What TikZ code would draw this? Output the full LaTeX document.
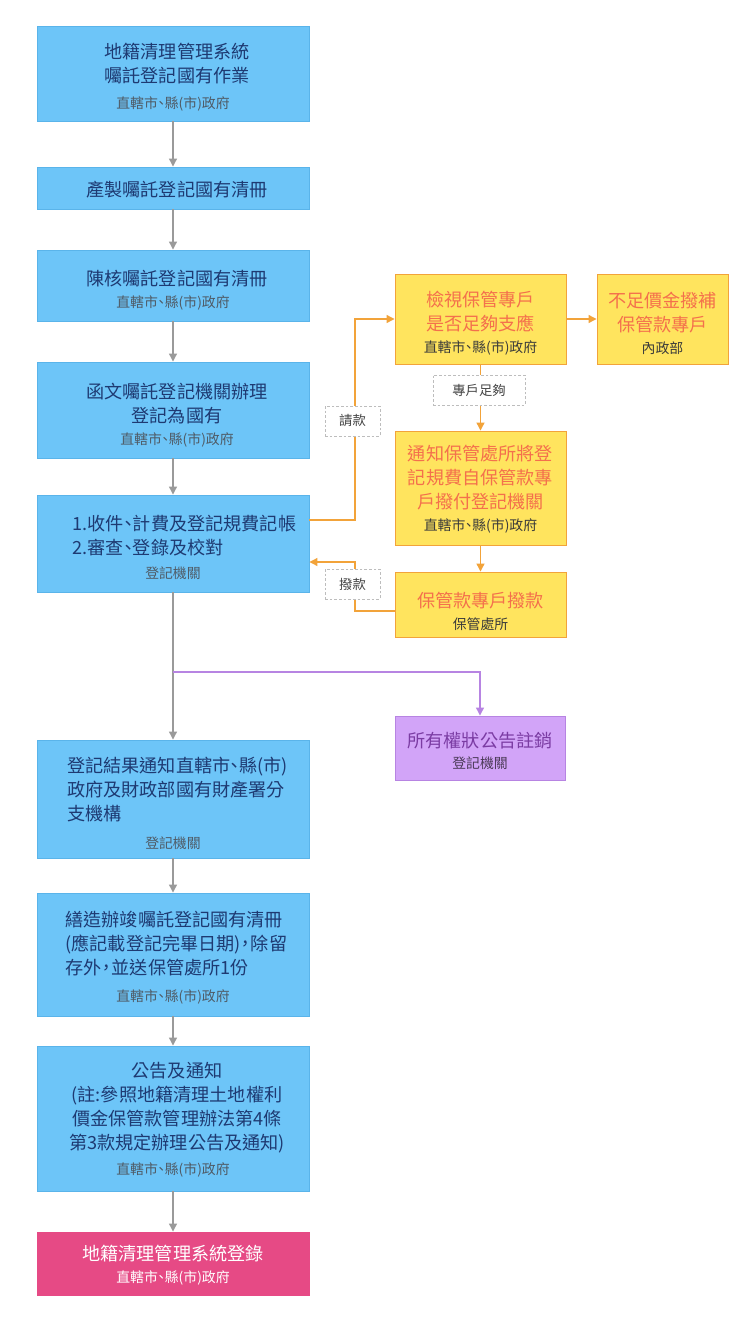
\documentclass[tikz,border=0pt]{standalone}
\usepackage{fontspec}
\setmainfont{Noto Sans CJK TC}
\usetikzlibrary{arrows.meta}
\definecolor{bluefill}{HTML}{6DC5F8}
\definecolor{blueline}{HTML}{5AB4EA}
\definecolor{bluetext}{HTML}{1E3A72}
\definecolor{subgray}{HTML}{4F5B66}
\definecolor{yelfill}{HTML}{FFE45E}
\definecolor{yelline}{HTML}{F2A33A}
\definecolor{yeltext}{HTML}{F4704C}
\definecolor{yelsub}{HTML}{3A3A3A}
\definecolor{purfill}{HTML}{D2A4F8}
\definecolor{purline}{HTML}{B784E2}
\definecolor{purtext}{HTML}{7B3CA3}
\definecolor{pursub}{HTML}{4B3A57}
\definecolor{pinkfill}{HTML}{E64A85}
\definecolor{arrgray}{HTML}{9A9A9A}
\definecolor{dashgray}{HTML}{BDBDBD}
\definecolor{lbltext}{HTML}{444444}
\newcommand{\subline}[2]{{\fontsize{10.4}{13}\selectfont\color{#1}#2}}
\newcommand{\dn}{\makebox[0.5em]{、}}
\newcommand{\cm}{\makebox[0.55em]{，}}
\newcommand{\tp}{\rule{0pt}{17.5pt}}
\newcommand{\tpt}{\rule{0pt}{18.6pt}}
\newcommand{\ml}[1]{\hspace*{6pt}#1}
\tikzset{
  base/.style={rectangle, align=center, inner sep=0pt, line width=0.7pt,
    font=\fontsize{13.6}{18}\selectfont},
  bluebox/.style={base, fill=bluefill, draw=blueline, text=bluetext, minimum width=204pt},
  yelbox/.style={base, fill=yelfill, draw=yelline, text=yeltext, minimum width=128.25pt},
  purbox/.style={base, fill=purfill, draw=purline, text=purtext, minimum width=127.5pt},
  pinkbox/.style={base, fill=pinkfill, draw=pinkfill, text=white, minimum width=204pt},
  lbl/.style={rectangle, draw=dashgray, dash pattern=on 2pt off 1.5pt, fill=white,
    inner sep=0pt, minimum height=22.5pt, text=lbltext,
    font=\fontsize{10}{13}\selectfont},
  garrow/.style={draw=arrgray, line width=0.9pt, -{Triangle[width=6pt,length=6pt]}},
  oarrow/.style={draw=yelline, line width=0.9pt, -{Triangle[width=6pt,length=6pt]}},
  parrow/.style={draw=purline, line width=0.9pt, -{Triangle[width=6pt,length=6pt]}},
}
\begin{document}
\begin{tikzpicture}[x=0.75pt,y=-0.75pt]
\fill[white] (0,0) rectangle (740,1328);
\useasboundingbox (0,0) rectangle (740,1328);

% main column
\node[bluebox, minimum height=71.25pt] (A) at (173,73.5)
  {\tp\ml{地籍清理管理系統}\\\ml{囑託登記國有作業}\\[1.5pt]\subline{subgray}{直轄市\dn 縣(市)政府}};
\node[bluebox, minimum height=31.5pt] (B) at (173,188) {\rule{0pt}{14.5pt}\ml{產製囑託登記國有清冊}};
\node[bluebox, minimum height=53.25pt] (C) at (173,285.5)
  {\rule{0pt}{19pt}\ml{陳核囑託登記國有清冊}\\[-1.5pt]\subline{subgray}{直轄市\dn 縣(市)政府}};
\node[bluebox, minimum height=72pt] (D) at (173,410)
  {\rule{0pt}{19pt}\ml{函文囑託登記機關辦理}\\\ml{登記為國有}\\[-1.5pt]\subline{subgray}{\ml{直轄市\dn 縣(市)政府}}};
\node[bluebox, minimum height=72.75pt] (E) at (173,543.5)
  {\hspace*{17pt}\begin{tabular}[b]{@{}l@{}}\rule{0pt}{16.6pt}1.收件\dn 計費及登記規費記帳\\2.審查\dn 登錄及校對\end{tabular}\\[0pt]\subline{subgray}{登記機關}};
\node[bluebox, minimum height=88.5pt] (F) at (173,799)
  {\hspace*{7pt}\begin{tabular}[b]{@{}l@{}}\tpt 登記結果通知直轄市\dn 縣(市)\\政府及財政部國有財產署分\\支機構\end{tabular}\\[3pt]\subline{subgray}{登記機關}};
\node[bluebox, minimum height=92.25pt] (G) at (173,954.5)
  {\hspace*{5pt}\begin{tabular}[b]{@{}l@{}}\rule{0pt}{15.6pt}繕造辦竣囑託登記國有清冊\\(應記載登記完畢日期)\cm 除留\\存外\cm 並送保管處所1份\end{tabular}\\[2.25pt]\subline{subgray}{直轄市\dn 縣(市)政府}};
\node[bluebox, minimum height=108.75pt] (H) at (173,1118.5)
  {\rule{0pt}{13.5pt}\ml{公告及通知}\\\ml{(註:參照地籍清理土地權利}\\\ml{價金保管款管理辦法第4條}\\\ml{第3款規定辦理公告及通知)}\\[0.75pt]\subline{subgray}{直轄市\dn 縣(市)政府}};
\node[pinkbox, minimum height=47.25pt] (I) at (173,1263.5)
  {\rule{0pt}{14.5pt}地籍清理管理系統登錄\\[-1.5pt]\subline{white}{直轄市\dn 縣(市)政府}};

% right side
\node[yelbox, minimum height=67.5pt] (Y1) at (480.5,319)
  {\tp 檢視保管專戶\\是否足夠支應\\[-1.5pt]\subline{yelsub}{直轄市\dn 縣(市)政府}};
\node[yelbox, minimum width=98.25pt, minimum height=67.5pt] (Y2) at (662.5,319)
  {\tp 不足價金撥補\\保管款專戶\\[-1.5pt]\subline{yelsub}{內政部}};
\node[yelbox, minimum height=85.5pt] (Y3) at (480.5,488)
  {\rule{0pt}{13.5pt}通知保管處所將登\\記規費自保管款專\\戶撥付登記機關\\[-1.5pt]\subline{yelsub}{直轄市\dn 縣(市)政府}};
\node[yelbox, minimum height=48.75pt] (Y4) at (480.5,604.5)
  {\rule{0pt}{22.5pt}保管款專戶撥款\\[-1.5pt]\subline{yelsub}{保管處所}};
\node[purbox, minimum height=48pt] (P) at (480,748)
  {\rule{0pt}{16pt}所有權狀公告註銷\\[-2pt]\subline{pursub}{登記機關}};

% main flow arrows
\draw[garrow] (A) -- (B);
\draw[garrow] (B) -- (C);
\draw[garrow] (C) -- (D);
\draw[garrow] (D) -- (E);
\draw[garrow] (E) -- (F);
\draw[garrow] (F) -- (G);
\draw[garrow] (G) -- (H);
\draw[garrow] (H) -- (I);

% branch to purple
\coordinate (br) at (173,672);
\draw[parrow] (br) -| (P.north);

% orange flows
\coordinate (q1) at (355,520);
\draw[oarrow] (E.east |- q1) -- (q1) |- (Y1.west);
\draw[oarrow] (Y1) -- (Y2);
\draw[oarrow] (Y1) -- (Y3);
\draw[oarrow] (Y3) -- (Y4);
\coordinate (q2) at (355,611);
\coordinate (q3) at (355,562);
\draw[oarrow] (Y4.west |- q2) -- (q2) -- (q3) -- (E.east |- q3);

% labels
\node[lbl, minimum width=69pt] (L1) at (479,390) {專戶足夠};
\node[lbl, minimum width=41.25pt] (L2) at (352.5,421) {請款};
\node[lbl, minimum width=41.25pt] (L3) at (352.5,584) {撥款};
\end{tikzpicture}
\end{document}
